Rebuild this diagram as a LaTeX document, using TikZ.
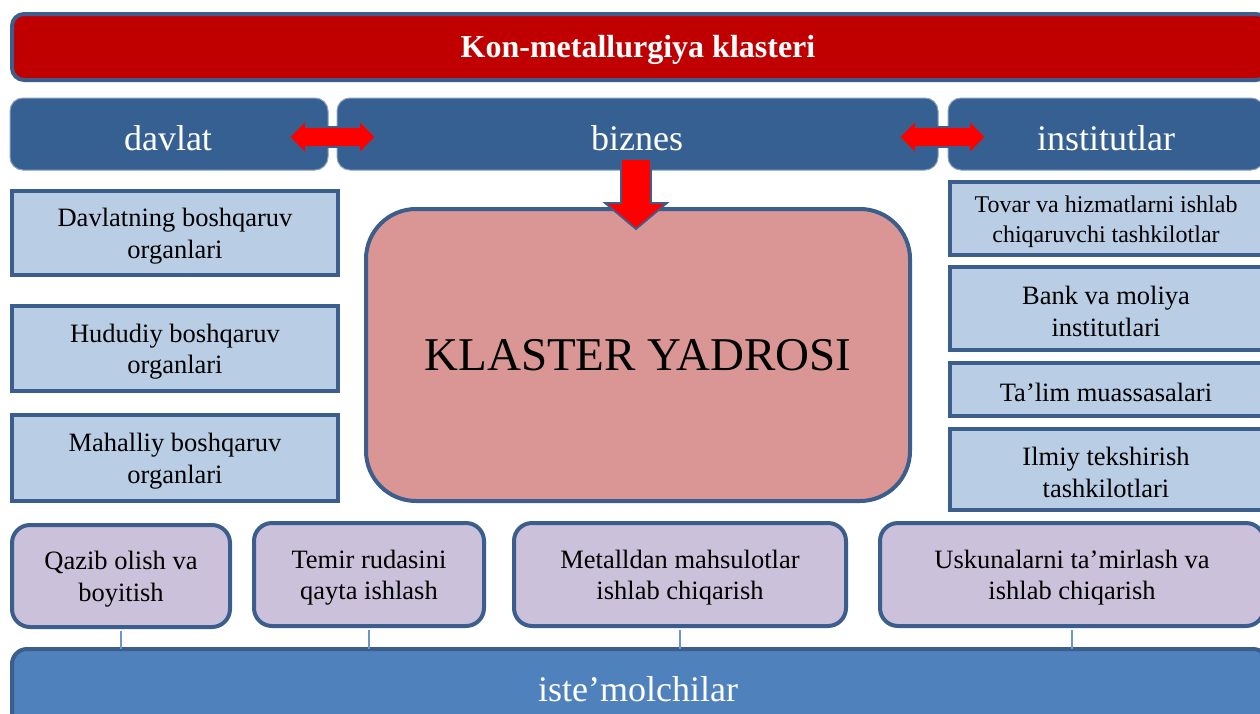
\documentclass[tikz,border=0pt]{standalone}
\usepackage{fontspec}
\setmainfont{Liberation Serif}
\definecolor{bdr}{HTML}{3B5E8C}
\definecolor{titlered}{HTML}{C00000}
\definecolor{rowblue}{HTML}{376092}
\definecolor{lightblue}{HTML}{B9CDE5}
\definecolor{pinkcore}{HTML}{D99694}
\definecolor{lavender}{HTML}{CCC1DA}
\definecolor{barblue}{HTML}{4F81BD}
\definecolor{linkblue}{HTML}{6A96CC}
\definecolor{arrred}{HTML}{FF0000}
\newcommand{\fsz}[2]{\fontsize{#1}{#2}\selectfont}
\tikzset{
  titlebox/.style={draw=bdr, line width=4pt, fill=titlered, rounded corners=12pt, inner sep=0pt},
  rowbox/.style={draw=rowblue!60!white, line width=1pt, fill=rowblue, rounded corners=13pt, inner sep=0pt},
  sidebox/.style={draw=bdr, line width=4pt, fill=lightblue, inner sep=0pt},
  corebox/.style={draw=bdr, line width=4pt, fill=pinkcore, rounded corners=50pt, inner sep=0pt, font=\fsz{47}{52}},
  stagebox/.style={draw=bdr, line width=4pt, fill=lavender, rounded corners=18pt, inner sep=0pt},
  barbox/.style={draw=bdr, line width=4pt, fill=barblue, rounded corners=15pt, inner sep=0pt},
  bigwhite/.style={text=white, font=\fsz{36}{40}, inner sep=0pt},
  boxtext/.style={align=center, font=\fsz{26.5}{31.5}, inner sep=0pt, yshift=-3pt},
  link/.style={draw=linkblue, line width=1.3pt},
  redarrow/.style={fill=arrred, draw=bdr, line width=1.8pt, line join=miter}
}
\begin{document}
\begin{tikzpicture}[x=1pt,y=-1pt]
\useasboundingbox (0,0) rectangle (1260,713);
\clip (0,0) rectangle (1260,713);
\fill[white] (0,0) rectangle (1260,713);

% title
\node[titlebox, minimum width=1256pt, minimum height=66pt] (title) at (640,47) {};
\node[text=white, font=\fsz{32}{36}\bfseries, inner sep=0pt] (titletext) at (638,50) {Kon-metallurgiya klasteri};

% row of actors
\node[rowbox, minimum width=318pt, minimum height=72pt] (davlat) at (169,134) {};
\node[rowbox, minimum width=601pt, minimum height=72pt] (biznes) at (637.5,134) {};
\node[rowbox, minimum width=316pt, minimum height=72pt] (inst) at (1106,134) {};
\node[bigwhite] (davlatt) at (168,138) {davlat};
\node[bigwhite] (biznest) at (637,138) {biznes};
\node[bigwhite] (instt) at (1106,138) {institutlar};

% double arrows
\draw[redarrow] (289,137) -- (306,120) -- (306,127) -- (359,127) -- (359,120) -- (376,137)
  -- (359,154) -- (359,147) -- (306,147) -- (306,154) -- cycle;
\draw[redarrow] (899,137) -- (916,120) -- (916,127) -- (969,127) -- (969,120) -- (986,137)
  -- (969,154) -- (969,147) -- (916,147) -- (916,154) -- cycle;

% core
\node[corebox, minimum width=544pt, minimum height=292pt] (core) at (638,355) {KLASTER YADROSI};

% down arrow from biznes to core
\draw[redarrow] (621,159) -- (651,159) -- (651,203) -- (667,203) -- (636,229) -- (605,203) -- (621,203) -- cycle;

% left boxes
\node[sidebox, minimum width=326pt, minimum height=84pt] (l1) at (175,233) {};
\node[sidebox, minimum width=326pt, minimum height=85pt] (l2) at (175,348.5) {};
\node[sidebox, minimum width=326pt, minimum height=86pt] (l3) at (175,458) {};
\node[boxtext] (l1t) at (l1.center) {Davlatning boshqaruv\\organlari};
\node[boxtext] (l2t) at (l2.center) {Hududiy boshqaruv\\organlari};
\node[boxtext] (l3t) at (l3.center) {Mahalliy boshqaruv\\organlari};

% right boxes
\node[sidebox, minimum width=312pt, minimum height=73pt] (r1) at (1106,218.5) {};
\node[sidebox, minimum width=312pt, minimum height=83pt] (r2) at (1106,308.5) {};
\node[sidebox, minimum width=312pt, minimum height=53pt] (r3) at (1106,389.5) {};
\node[sidebox, minimum width=312pt, minimum height=81pt] (r4) at (1106,469.5) {};
\node[boxtext, font=\fsz{24}{30}] (r1t) at (r1.center) {Tovar va hizmatlarni ishlab\\chiqaruvchi tashkilotlar};
\node[boxtext] (r2t) at (r2.center) {Bank va moliya\\institutlari};
\node[boxtext] (r3t) at (r3.center) {Ta’lim muassasalari};
\node[boxtext] (r4t) at (r4.center) {Ilmiy tekshirish\\tashkilotlari};

% bottom stages
\node[stagebox, minimum width=218pt, minimum height=102pt] (s1) at (121,576) {};
\node[stagebox, minimum width=230pt, minimum height=103pt] (s2) at (369,574.5) {};
\node[stagebox, minimum width=332pt, minimum height=103pt] (s3) at (680,574.5) {};
\node[stagebox, minimum width=384pt, minimum height=103pt] (s4) at (1072,574.5) {};
\node[boxtext] (s1t) at (s1.center) {Qazib olish va\\boyitish};
\node[boxtext] (s2t) at (s2.center) {Temir rudasini\\qayta ishlash};
\node[boxtext] (s3t) at (s3.center) {Metalldan mahsulotlar\\ishlab chiqarish};
\node[boxtext] (s4t) at (s4.center) {Uskunalarni ta’mirlash va\\ishlab chiqarish};

% consumers bar
\node[barbox, minimum width=1256pt, minimum height=78pt] (bar) at (640,688) {};
\node[bigwhite] (bart) at (638,689) {iste’molchilar};

% links
\foreach \s in {s1,s2,s3,s4}{
  \draw[link] ([yshift=-2pt]\s.south) -- ([yshift=-2pt]\s.south |- bar.north);
}
\end{tikzpicture}
\end{document}
